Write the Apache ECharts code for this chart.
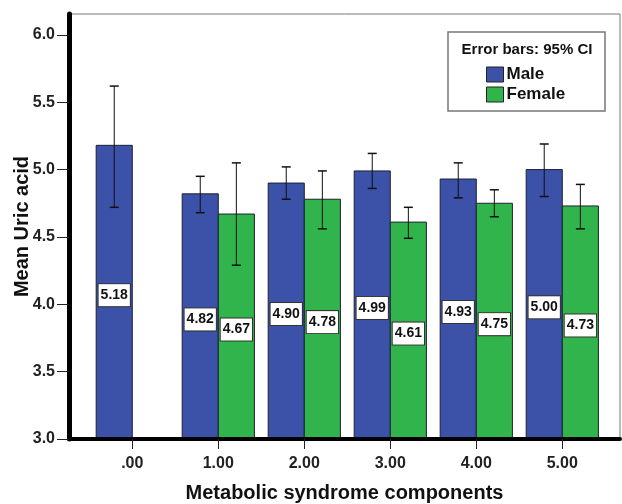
<!DOCTYPE html>
<html><head><meta charset="utf-8">
<script src="https://cdn.jsdelivr.net/npm/echarts@6/dist/echarts.min.js"></script>
<style>html,body{margin:0;padding:0;background:#fff}#c{width:622px;height:504px}</style>
</head><body><div id="c"></div>
<script>
const categories = [0, 1, 2, 3, 4, 5];
const xTickLabels = ['.00', '1.00', '2.00', '3.00', '4.00', '5.00'];
const yTicks = [3.0, 3.5, 4.0, 4.5, 5.0, 5.5, 6.0];
const maleMean = [5.18, 4.82, 4.90, 4.99, 4.93, 5.00];
const maleLow = [4.72, 4.68, 4.78, 4.86, 4.79, 4.80];
const maleHigh = [5.62, 4.95, 5.02, 5.12, 5.05, 5.19];
const femaleMean = [null, 4.67, 4.78, 4.61, 4.75, 4.73];
const femaleLow = [null, 4.29, 4.56, 4.49, 4.65, 4.56];
const femaleHigh = [null, 5.05, 4.99, 4.72, 4.85, 4.89];

const Y_MIN = 3, Y_MAX = 6.155, BAR_W = 0.42;
const FONT = '"Liberation Sans", Arial, sans-serif';
const BLUE = '#3c51a8', GREEN = '#31b44b';

function build(mean, low, high) {
  const out = [];
  categories.forEach((c, i) => {
    if (mean[i] != null) out.push([c, mean[i], low[i], high[i]]);
  });
  return out;
}

function makeRender(side, color) {
  return function (params, api) {
    const x = api.value(0), m = api.value(1), lo = api.value(2), hi = api.value(3);
    const w = api.size([BAR_W, 0])[0];
    const base = api.coord([x, Y_MIN]);
    const top = api.coord([x, m]);
    const x0 = side < 0 ? base[0] - w : base[0];
    const cx = x0 + w / 2;
    const pLo = api.coord([x, lo])[1], pHi = api.coord([x, hi])[1];
    const mid = (base[1] + top[1]) / 2 + 3;
    const cap = 4.5;
    return {
      type: 'group', children: [
        { type: 'rect', shape: { x: x0, y: top[1], width: w, height: base[1] - top[1] },
          style: { fill: color, stroke: '#1c2230', lineWidth: 1 } },
        { type: 'line', shape: { x1: cx, y1: pLo, x2: cx, y2: pHi }, style: { stroke: '#111', lineWidth: 1 } },
        { type: 'line', shape: { x1: cx - cap, y1: pHi, x2: cx + cap, y2: pHi }, style: { stroke: '#111', lineWidth: 1.5 } },
        { type: 'line', shape: { x1: cx - cap, y1: pLo, x2: cx + cap, y2: pLo }, style: { stroke: '#111', lineWidth: 1.5 } },
        { type: 'text', x: cx, y: mid, z2: 10,
          style: { text: m.toFixed(2), fill: '#111', font: 'bold 14px ' + FONT, align: 'center', verticalAlign: 'middle',
            backgroundColor: '#fff', borderColor: '#333', borderWidth: 1, padding: [4, 2] } }
      ]
    };
  };
}

const chart = echarts.init(document.getElementById('c'), null, { renderer: 'canvas' });
chart.setOption({
  backgroundColor: '#fff',
  animation: false,
  grid: { left: 69, right: 2, top: 14, bottom: 65, show: true, borderColor: '#777', borderWidth: 1,
    containLabel: false, outerBoundsMode: 'none' },
  xAxis: {
    type: 'value', min: -0.736, max: 5.671, z: 10,
    axisLine: { show: true, onZero: false, lineStyle: { color: '#000', width: 4 } },
    axisTick: { show: true, customValues: categories, length: 10, lineStyle: { color: '#222', width: 1 } },
    axisLabel: { customValues: categories, formatter: v => xTickLabels[categories.indexOf(Math.round(v))],
      fontFamily: FONT, fontWeight: 'bold', fontSize: 16, color: '#222', margin: 17 },
    splitLine: { show: false },
    name: 'Metabolic syndrome components', nameLocation: 'middle', nameGap: 44, nameMoveOverlap: false,
    nameTextStyle: { fontFamily: FONT, fontWeight: 'bold', fontSize: 20, color: '#111' }
  },
  yAxis: {
    type: 'value', min: Y_MIN, max: Y_MAX, interval: 0.5, z: 10,
    axisLine: { show: true, onZero: false, lineStyle: { color: '#000', width: 5 } },
    axisTick: { show: true, customValues: yTicks, length: 12, lineStyle: { color: '#222', width: 1 } },
    axisLabel: { customValues: yTicks, formatter: v => v.toFixed(1),
      fontFamily: FONT, fontWeight: 'bold', fontSize: 16, color: '#222', margin: 14 },
    splitLine: { show: false },
    name: 'Mean Uric acid', nameLocation: 'middle', nameGap: 37, nameMoveOverlap: false,
    nameTextStyle: { fontFamily: FONT, fontWeight: 'bold', fontSize: 20, color: '#111' }
  },
  legend: {
    data: ['Male', 'Female'], orient: 'vertical', left: 486, top: 66, itemGap: 3,
    icon: 'rect', itemWidth: 17, itemHeight: 15, padding: 0,
    itemStyle: { borderColor: '#222', borderWidth: 1 },
    textStyle: { fontFamily: FONT, fontWeight: 'bold', fontSize: 17, color: '#111', padding: [0, 0, 0, -2] }
  },
  graphic: [
    { type: 'rect', shape: { x: 448, y: 32, width: 157, height: 79 }, z: 1,
      style: { fill: '#fff', stroke: '#777', lineWidth: 1.5 } },
    { type: 'text', x: 527, y: 50, z: 2,
      style: { text: 'Error bars: 95% CI', font: 'bold 15px ' + FONT, fill: '#111', align: 'center', verticalAlign: 'middle' } }
  ],
  series: [
    { name: 'Male', type: 'custom', itemStyle: { color: BLUE }, renderItem: makeRender(-1, BLUE),
      encode: { x: 0, y: 1 }, data: build(maleMean, maleLow, maleHigh) },
    { name: 'Female', type: 'custom', itemStyle: { color: GREEN }, renderItem: makeRender(1, GREEN),
      encode: { x: 0, y: 1 }, data: build(femaleMean, femaleLow, femaleHigh) }
  ]
});
</script></body></html>
